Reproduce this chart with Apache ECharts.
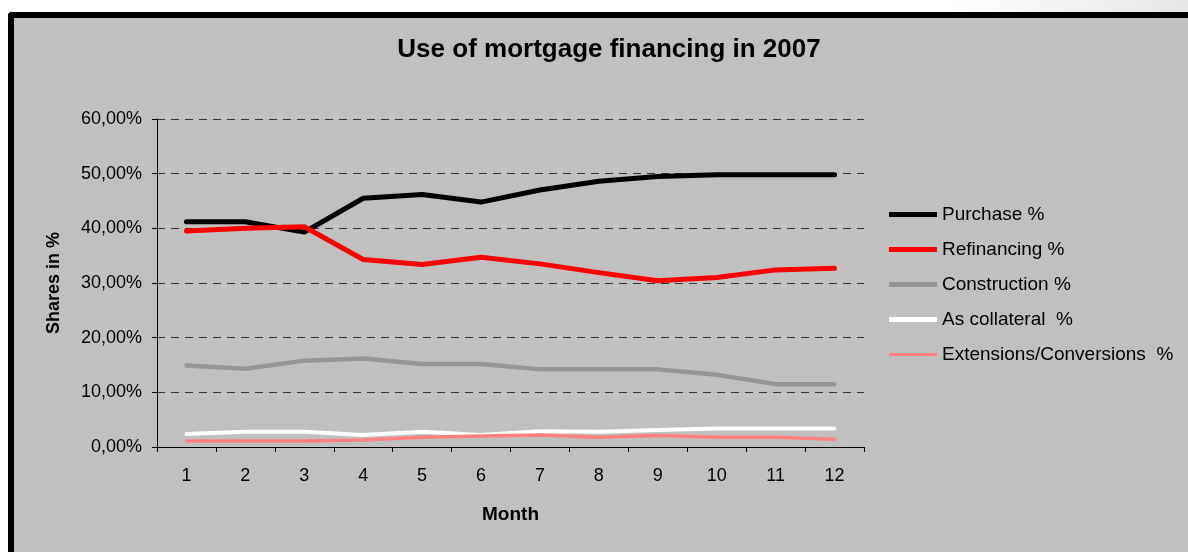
<!DOCTYPE html>
<html>
<head>
<meta charset="utf-8">
<title>Use of mortgage financing in 2007</title>
<script src="https://cdn.jsdelivr.net/npm/echarts@6/dist/echarts.min.js"></script>
<style>
  html, body { margin: 0; padding: 0; }
  body {
    width: 1188px; height: 552px; overflow: hidden; position: relative;
    background: linear-gradient(to right, #ffffff 0%, #ffffff 80%, #e6e6e6 100%);
  }
  .frame {
    position: absolute; left: 8px; top: 12px; width: 1300px; height: 620px;
    border-left: 6px solid #000; border-top: 6px solid #000;
    border-top-left-radius: 4px; background: #c0c0c0;
  }
  #chart { position: absolute; left: 0; top: 0; width: 1188px; height: 552px; }
</style>
</head>
<body>
<div class="frame"></div>
<div id="chart"></div>
<script>
// months and shares (%)
var months = ["1", "2", "3", "4", "5", "6", "7", "8", "9", "10", "11", "12"];
var purchase = [41.2, 41.2, 39.3, 45.5, 46.2, 44.8, 47.0, 48.6, 49.5, 49.8, 49.8, 49.8];
var refinancing = [39.5, 40.0, 40.3, 34.3, 33.4, 34.7, 33.5, 31.9, 30.4, 31.0, 32.4, 32.7];
var construction = [14.9, 14.3, 15.8, 16.2, 15.2, 15.2, 14.2, 14.2, 14.2, 13.2, 11.5, 11.5];
var collateral = [2.4, 2.8, 2.8, 2.2, 2.8, 2.2, 2.9, 2.8, 3.1, 3.4, 3.4, 3.4];
var extensions = [1.1, 1.1, 1.1, 1.3, 1.8, 2.0, 2.2, 1.8, 2.1, 1.8, 1.8, 1.4];

var font = "'Liberation Sans', Arial, sans-serif";
var thick = "path://M0,5.5L48,5.5L48,10.5L0,10.5Z";
var thin = "path://M0,6.5L48,6.5L48,9.5L0,9.5Z";

function lineSeries(name, data, color, width) {
  return {
    name: name,
    type: "line",
    data: data,
    symbol: "none",
    animation: false,
    lineStyle: { color: color, width: width, cap: "round", join: "round" },
    itemStyle: { color: color }
  };
}

var chart = echarts.init(document.getElementById("chart"));

chart.setOption({
  backgroundColor: "transparent",
  title: {
    text: "Use of mortgage financing in 2007",
    left: 604,
    top: 32,
    textAlign: "center",
    textStyle: { fontFamily: font, fontSize: 26, fontWeight: "bold", color: "#000" }
  },
  legend: {
    orient: "vertical",
    left: 889,
    top: 205,
    padding: 0,
    itemWidth: 48,
    itemHeight: 14,
    itemGap: 16,
    data: [
      { name: "Purchase %", itemStyle: { color: "#000000" }, icon: thick },
      { name: "Refinancing %", itemStyle: { color: "#ff0000" }, icon: thick },
      { name: "Construction %", itemStyle: { color: "#969696" }, icon: thick },
      { name: "As collateral  %", itemStyle: { color: "#ffffff" }, icon: thick },
      { name: "Extensions/Conversions  %", itemStyle: { color: "#ff8080" }, icon: thin }
    ],
    textStyle: { fontFamily: font, fontSize: 19, color: "#000" },
    itemStyle: { borderWidth: 0 }
  },
  grid: { left: 157, right: 324, top: 119, bottom: 105 },
  xAxis: {
    type: "category",
    data: months,
    boundaryGap: true,
    name: "Month",
    nameLocation: "middle",
    nameGap: 58,
    nameTextStyle: { fontFamily: font, fontSize: 19, fontWeight: "bold", color: "#000" },
    axisLine: { lineStyle: { color: "#000", width: 1 } },
    axisTick: { show: true, length: 5, lineStyle: { color: "#000" } },
    axisLabel: { fontFamily: font, fontSize: 18, color: "#000", margin: 20 },
    splitLine: { show: false }
  },
  yAxis: {
    type: "value",
    min: 0,
    max: 60,
    interval: 10,
    name: "Shares in %",
    nameLocation: "middle",
    nameRotate: 90,
    nameGap: 94,
    nameTextStyle: { fontFamily: font, fontSize: 18, fontWeight: "bold", color: "#000" },
    axisLine: { show: true, lineStyle: { color: "#000", width: 1 } },
    axisTick: { show: true, length: 5, lineStyle: { color: "#000" } },
    axisLabel: {
      fontFamily: font, fontSize: 18, color: "#000", margin: 15,
      formatter: function (v) { return v.toFixed(2).replace(".", ",") + "%"; }
    },
    splitLine: { show: true, lineStyle: { color: "#333", width: 1, type: [8, 6] } }
  },
  series: [
    lineSeries("Purchase %", purchase, "#000000", 5),
    lineSeries("Refinancing %", refinancing, "#ff0000", 5),
    lineSeries("Construction %", construction, "#969696", 4.5),
    lineSeries("As collateral  %", collateral, "#ffffff", 4),
    lineSeries("Extensions/Conversions  %", extensions, "#ff8080", 3.5)
  ]
});
</script>
</body>
</html>
